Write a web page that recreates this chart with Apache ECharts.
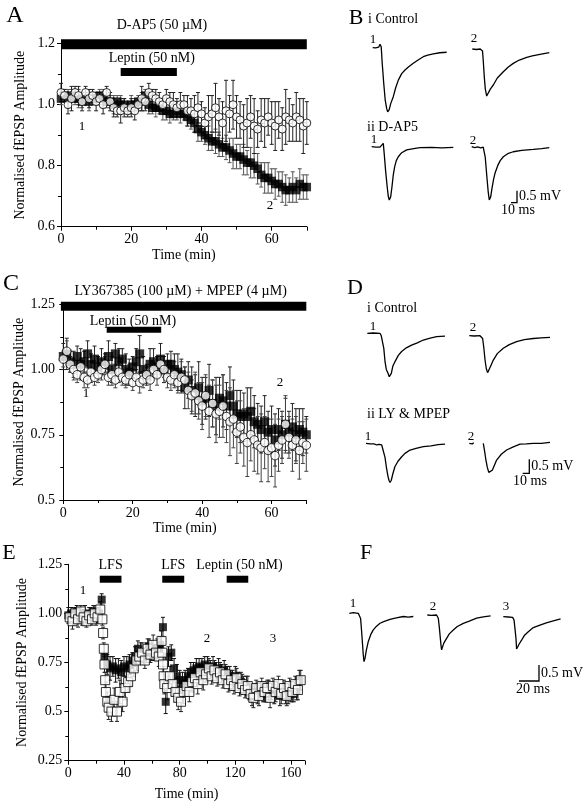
<!DOCTYPE html>
<html><head><meta charset="utf-8">
<script src="https://cdn.jsdelivr.net/npm/echarts/dist/echarts.min.js"></script>
<style>html,body{margin:0;padding:0;background:#fff}#c{width:584px;height:803px}</style>
</head><body><div id="c"></div><script>
// ---------- DATA ----------
const timeA = [0,1,2,3,4,5,6,7,8,9,10,11,12,13,14,15,16,17,18,19,20,21,22,23,24,25,26,27,28,29,30,31,32,33,34,35,36,37,38,39,40,41,42,43,44,45,46,47,48,49,50,51,52,53,54,55,56,57,58,59,60,61,62,63,64,65,66,67,68,69,70];
const aFilled = [1.02,1.03,1.02,1.03,1.02,1.02,1.01,1.02,1.01,1.02,1.02,
 1.03,1.02,1.01,1.01,1.00,1.01,1.00,1.00,0.99,1.00,
 1.00,1.01,1.01,1.03,1.00,0.99,0.99,0.99,0.98,0.98,
 0.97,0.97,0.98,0.97,0.97,0.96,0.95,0.94,0.92,0.91,
 0.90,0.89,0.88,0.88,0.87,0.86,0.86,0.85,0.84,0.83,
 0.83,0.82,0.81,0.81,0.80,0.79,0.77,0.76,0.76,0.75,
 0.74,0.74,0.73,0.72,0.72,0.73,0.72,0.74,0.73,0.73];
const aFilledErr = [.02,.02,.03,.02,.02,.03,.02,.02,.03,.02,.02,
 .02,.03,.02,.02,.03,.02,.03,.02,.02,.03,
 .02,.02,.03,.02,.03,.02,.03,.02,.03,.03,
 .03,.02,.03,.03,.02,.03,.03,.03,.04,.03,
 .03,.04,.03,.04,.04,.03,.04,.04,.05,.04,
 .04,.05,.04,.05,.04,.05,.04,.05,.05,.04,
 .05,.04,.05,.05,.04,.05,.04,.05,.04,.04];
const aOpen = [1.04,1.03,1.00,1.02,1.04,1.03,1.01,1.04,1.02,1.03,1.01,
 1.02,1.00,1.04,1.01,0.99,0.98,0.98,0.99,0.98,0.99,
 0.98,1.00,1.02,1.01,1.04,1.03,1.02,1.01,1.00,1.02,
 1.01,1.00,0.99,1.00,1.00,0.98,0.98,0.97,0.99,0.97,
 0.94,0.96,0.97,0.99,0.96,0.94,0.98,0.97,1.00,0.96,
 0.95,0.93,0.94,0.96,0.93,0.92,0.95,0.94,0.96,0.94,
 0.93,0.95,0.92,0.96,0.95,0.94,0.96,0.95,0.93,0.94];
const aOpenErr = [.03,.02,.03,.04,.02,.03,.03,.02,.03,.02,.03,
 .02,.03,.02,.03,.03,.02,.04,.03,.02,.03,
 .03,.02,.04,.03,.03,.02,.03,.03,.02,.03,
 .03,.04,.03,.04,.03,.05,.04,.06,.05,.04,
 .05,.07,.06,.08,.06,.07,.10,.06,.08,.07,
 .06,.07,.08,.07,.09,.06,.07,.08,.06,.07,
 .08,.06,.07,.09,.07,.06,.08,.07,.09,.07];
const cFilled = [1.05,1.06,1.03,1.02,1.05,1.02,1.03,1.06,1.02,1.04,1.01,
 1.03,1.02,1.05,1.00,1.06,1.03,1.04,1.00,0.99,1.01,
 1.03,1.06,1.00,0.98,1.02,1.03,1.01,1.04,1.00,1.02,
 1.02,1.00,0.99,0.98,0.93,0.96,0.92,0.90,0.93,0.88,
 0.89,0.92,0.87,0.86,0.89,0.88,0.86,0.90,0.86,0.83,
 0.82,0.83,0.82,0.84,0.80,0.79,0.77,0.80,0.76,0.77,
 0.73,0.77,0.75,0.79,0.76,0.78,0.75,0.77,0.76,0.75];
const cFilledErr = [.05,.06,.04,.05,.04,.06,.04,.05,.04,.05,.04,
 .05,.04,.06,.05,.04,.05,.04,.06,.05,.04,
 .05,.07,.05,.04,.06,.05,.04,.06,.05,.04,
 .05,.06,.07,.06,.08,.07,.09,.08,.10,.09,
 .08,.10,.09,.11,.08,.10,.09,.11,.10,.09,
 .10,.08,.11,.09,.10,.08,.09,.10,.08,.09,
 .10,.08,.09,.10,.08,.09,.10,.08,.09,.07];
const cOpen = [1.04,1.07,1.02,1.00,0.98,1.01,0.97,0.96,0.99,0.97,0.98,
 1.00,1.02,0.97,0.98,0.96,0.99,0.97,0.96,0.98,0.95,
 0.97,0.95,0.96,0.98,0.96,1.00,0.98,1.02,1.00,0.97,
 0.96,0.98,0.95,0.97,0.96,0.92,0.90,0.91,0.88,0.86,
 0.90,0.84,0.87,0.83,0.84,0.86,0.82,0.80,0.81,0.76,
 0.78,0.74,0.72,0.75,0.73,0.71,0.70,0.72,0.69,0.70,
 0.67,0.71,0.73,0.79,0.74,0.71,0.73,0.69,0.72,0.71];
const cOpenErr = [.03,.04,.03,.04,.03,.03,.04,.03,.04,.03,.03,
 .04,.03,.03,.04,.03,.04,.03,.03,.04,.03,
 .03,.04,.03,.03,.04,.03,.04,.03,.03,.04,
 .04,.05,.04,.06,.05,.07,.06,.08,.07,.09,
 .08,.10,.09,.11,.10,.12,.10,.13,.11,.12,
 .10,.11,.13,.10,.12,.11,.13,.10,.12,.11,
 .12,.10,.09,.11,.08,.10,.09,.11,.08,.10];
const timeEFilled = [0,2,4,6,8,10,12,14,16,18,20,22,24,26,28,30,32,34,36,38,40,42,44,46,48,50,52,54,56,58,60,62,64,66,68,70,72,74,76,78,80,82,84,86,88,90,92,94,96,98,100,102,104,106,108,110,112,114,116,118,120,122,124,126,128,130,132,134,136,138,140,142,144,146,148,150,152,154,156,158,160,162,164,166];
const eFilled = [0.99,1.00,0.98,1.01,0.99,0.97,1.00,0.98,0.99,1.01,0.98,1.00,1.07,0.78,0.74,0.72,0.73,0.71,0.72,0.70,0.73,0.72,0.74,0.76,0.78,0.82,0.80,0.78,0.80,0.83,0.81,0.80,0.82,0.84,0.93,0.55,0.78,0.80,0.72,0.68,0.66,0.64,0.66,0.68,0.70,0.71,0.72,0.73,0.72,0.74,0.73,0.72,0.73,0.71,0.72,0.70,0.71,0.69,0.68,0.67,0.68,0.66,0.65,0.64,0.63,0.60,0.58,0.60,0.59,0.61,0.60,0.59,0.61,0.60,0.59,0.61,0.58,0.60,0.59,0.58,0.60,0.59,0.61,0.66];
const eFilledErr = [.04,.03,.04,.03,.04,.03,.04,.03,.04,.03,.04,.03,.03,.06,.05,.06,.05,.06,.05,.06,.05,.06,.05,.04,.05,.04,.05,.04,.05,.04,.05,.04,.05,.04,.05,.06,.05,.04,.05,.06,.05,.06,.05,.04,.05,.04,.05,.04,.05,.04,.05,.04,.05,.04,.05,.04,.05,.04,.05,.04,.05,.04,.05,.04,.05,.04,.05,.04,.05,.04,.05,.04,.05,.04,.05,.04,.05,.04,.05,.04,.05,.04,.05,.05];
const timeEOpen = [1,3,5,7,9,11,13,15,17,19,21,23,24.5,25,25.5,26,26.5,27,28,29,31,33,35,37,39,41,43,45,47,49,51,53,55,57,59,61,63,65,67,67.5,68,68.5,69,71,73,75,77,79,81,83,85,87,89,91,93,95,97,99,101,103,105,107,109,111,113,115,117,119,121,123,125,127,129,131,133,135,137,139,141,143,145,147,149,151,153,155,157,159,161,163,165,167];
const eOpen = [0.98,0.96,1.00,0.97,1.01,0.98,0.96,0.99,0.97,1.00,0.98,1.02,0.97,0.90,0.82,0.74,0.66,0.60,0.55,0.52,0.50,0.56,0.50,0.60,0.55,0.62,0.65,0.68,0.72,0.76,0.78,0.80,0.76,0.82,0.79,0.84,0.80,0.78,0.86,0.80,0.74,0.68,0.64,0.62,0.68,0.64,0.60,0.57,0.55,0.60,0.63,0.60,0.65,0.67,0.64,0.70,0.66,0.69,0.72,0.68,0.71,0.67,0.70,0.66,0.69,0.64,0.66,0.63,0.67,0.62,0.64,0.61,0.63,0.59,0.57,0.62,0.58,0.63,0.60,0.62,0.57,0.63,0.60,0.64,0.59,0.62,0.58,0.63,0.60,0.64,0.61,0.66];
const eOpenErr = [.03,.04,.03,.04,.03,.04,.03,.04,.03,.04,.03,.04,.03,.03,.03,.04,.04,.05,.05,.06,.05,.06,.05,.06,.05,.06,.05,.05,.04,.05,.04,.05,.04,.05,.04,.05,.04,.05,.05,.04,.04,.05,.05,.06,.05,.06,.05,.06,.05,.06,.05,.05,.05,.04,.05,.04,.05,.04,.05,.04,.05,.04,.05,.04,.05,.04,.05,.04,.05,.04,.05,.04,.05,.04,.05,.04,.05,.04,.05,.04,.05,.04,.05,.04,.05,.04,.05,.04,.05,.04,.05,.05];

const yTicksA = ['0.6','0.8','1.0','1.2'];
const yTicksC = ['0.5','0.75','1.00','1.25'];
const yTicksE = ['0.25','0.5','0.75','1.00','1.25'];
const barsA = [[0,70,1.198],[17,33,1.107]];
const barLabelsA = ['D-AP5 (50 µM)','Leptin (50 nM)'];
const barsC = [[-0.7,70,1.243],[12.5,28.2,1.152]];
const barLabelsC = ['LY367385 (100 µM) + MPEP (4 µM)','Leptin (50 nM)'];
const barsE = [[22.6,38.2,1.174],[67.5,83.3,1.174],[113.8,129.3,1.174]];
const barLabelsE = ['LFS','LFS','Leptin (50 nM)'];

// traces: [time ms, mV]
const traceBi1 = [[0,0],[5,-0.01],[10,0.02],[12.2,0.14],[14.2,0.04],[15.8,-0.63],[18.3,-1.46],[20.8,-2.17],[23.3,-2.54],[25,-2.67],[27.5,-2.58],[30,-2.33],[34.3,-2.04],[38.3,-1.67],[42.7,-1.35],[48.3,-1.08],[53.8,-0.93],[60,-0.79],[67.7,-0.65],[75,-0.52],[84.3,-0.375],[91.7,-0.31],[101,-0.26],[111.7,-0.21],[123.3,-0.19]];
const traceBi2 = [[0,0],[6.7,-0.02],[13.3,0],[15.7,0.05],[17,-0.08],[18.3,-0.5],[20,-1.17],[21.7,-1.67],[24,-1.96],[26.7,-1.88],[30,-1.67],[35,-1.5],[41.7,-1.21],[51.7,-0.95],[60,-0.75],[68.3,-0.6],[78.3,-0.46],[90.7,-0.35],[100,-0.29],[112.8,-0.22],[128.3,-0.15]];
const traceBii1 = [[0,0],[3.3,0.06],[6.7,-0.02],[10,0],[13.8,-0.02],[16.7,0],[19.3,0.14],[21,-0.33],[23.3,-1.04],[25.8,-1.67],[27.7,-2.08],[29.3,-2.22],[31.7,-2.08],[33.8,-1.67],[36,-1.17],[38.3,-0.83],[41,-0.58],[44.3,-0.42],[50,-0.25],[58.3,-0.13],[70,-0.08],[80.5,-0.04],[100,-0.03],[116.7,-0.05],[136,-0.03]];
const traceBii2 = [[0,0],[5,-0.04],[10,-0.01],[15,-0.05],[19.2,-0.02],[20.5,0.06],[22.5,-0.42],[25,-1.17],[27.5,-1.88],[29.3,-2.22],[31.7,-2.08],[34.2,-1.67],[36.7,-1.33],[38.8,-1.11],[43.3,-0.79],[47.5,-0.58],[52.7,-0.42],[60,-0.29],[69.3,-0.21],[83.3,-0.15],[102.7,-0.11],[116.7,-0.08],[129.3,-0.04]];
const traceDi1 = [[0,0],[9.1,0.01],[19.2,0],[21.2,-0.09],[23.2,-0.12],[25,-0.54],[26.8,-1.0],[28.8,-1.29],[31.4,-1.43],[33.3,-1.55],[36.4,-1.43],[38.6,-1.18],[42,-1.01],[47,-0.79],[52,-0.65],[59.1,-0.52],[67.1,-0.42],[75.8,-0.34],[84.8,-0.24],[93.9,-0.18],[105,-0.12],[117.7,-0.1]];
const traceDi2 = [[0,0],[7.6,-0.01],[16.2,0],[18.9,-0.04],[20.2,-0.1],[22,-0.43],[23.8,-0.86],[25.8,-1.18],[27.7,-1.32],[29.8,-1.25],[32.6,-1.07],[36.4,-0.87],[42.4,-0.64],[51.5,-0.45],[60.6,-0.32],[71.7,-0.21],[83.3,-0.14],[97,-0.1],[109,-0.08],[122.3,-0.06]];
const traceDii1 = [[0,0],[3,0.05],[6.1,-0.02],[9.1,-0.05],[12.1,-0.02],[16.2,-0.06],[19.7,-0.04],[23.8,-0.06],[26.2,-0.12],[28.8,-0.5],[31.1,-0.89],[33.3,-1.18],[34.8,-1.32],[36.4,-1.4],[38.3,-1.32],[40.9,-1.07],[43.9,-0.83],[48.5,-0.64],[54.1,-0.48],[59.1,-0.36],[66.7,-0.24],[75.8,-0.18],[86.8,-0.12],[98.5,-0.09],[109.1,-0.05],[119.7,-0.03]];
const traceDii2Pre = [[0,0],[2.3,0.04],[4.5,-0.02],[6.8,0.02]];
const traceDii2 = [[21.2,0],[22.7,-0.21],[25,-0.57],[27.3,-0.86],[29.5,-1.04],[32.3,-1.07],[34.8,-0.96],[37.9,-0.79],[41.4,-0.6],[48.5,-0.39],[56.5,-0.24],[66.7,-0.13],[76.8,-0.03],[86.4,-0.02],[97,0],[109.1,0],[122.3,0.03]];
const traceF1 = [[0,0],[4,0.02],[9,0],[10.5,-0.05],[11.3,-0.16],[12.3,-0.56],[13.3,-1.0],[14,-1.31],[14.7,-1.51],[15.7,-1.41],[17,-1.16],[19,-0.88],[21.5,-0.66],[24,-0.52],[27,-0.41],[30.7,-0.31],[35,-0.25],[40.7,-0.19],[47,-0.14],[54,-0.1],[59,-0.12],[64,-0.1]];
const traceF2 = [[0,0],[4,-0.01],[9.3,0],[10.3,-0.03],[11,-0.1],[12,-0.38],[13,-0.72],[13.7,-0.94],[14.3,-1.09],[15.3,-1.03],[16.5,-0.88],[19.3,-0.73],[22,-0.59],[26,-0.47],[30,-0.36],[36,-0.26],[42,-0.19],[49.3,-0.1],[56,-0.06],[63.3,-0.03]];
const traceF3 = [[0,0],[5,-0.01],[9.3,-0.02],[10.7,-0.1],[11.7,-0.38],[12.7,-0.69],[13.3,-1.01],[14.5,-0.94],[15.7,-0.86],[18.3,-0.73],[21,-0.59],[25,-0.47],[30,-0.34],[36.7,-0.26],[43,-0.19],[50,-0.13],[57.3,-0.07]];
const scaleB = [10, 0.5], scaleD = [10, 0.5], scaleF = [20, 0.5];
const scaleLabelsB = ['0.5 mV','10 ms'], scaleLabelsD = ['0.5 mV','10 ms'], scaleLabelsF = ['0.5 mV','20 ms'];
const axisNameY = 'Normalised fEPSP Amplitude', axisNameX = 'Time (min)';

// ---------- CHART ----------
const FONT = '"Liberation Serif","DejaVu Serif",serif';
const grids = [], xAxes = [], yAxes = [], series = [];
function zip3(t, v, e){ return t.map((x,i)=>[x, v[i], e[i]]); }
function zip2(t, v){ return t.map((x,i)=>[x, v[i]]); }

function addScatterPanel(g, xmax, xint, ymin, ymax, yint, ylabels, yoff, nameGapY, nameGapX){
  const idx = grids.length;
  grids.push(g);
  const common = {
    axisLine:{show:true,lineStyle:{color:'#000',width:1}},
    axisTick:{show:true,inside:false,length:4,lineStyle:{color:'#000'}},
    minorTick:{show:true,splitNumber:2,length:3,lineStyle:{color:'#000'}},
    splitLine:{show:false}, minorSplitLine:{show:false},
    nameTextStyle:{fontFamily:FONT,fontSize:14,color:'#000'}
  };
  xAxes.push(Object.assign({}, common, {gridIndex:idx,type:'value',min:0,max:xmax,interval:xint,
    name:axisNameX,nameLocation:'middle',nameGap:nameGapX,
    axisLabel:{color:'#000',fontFamily:FONT,fontSize:14,margin:6,showMaxLabel:false}}));
  yAxes.push(Object.assign({}, common, {gridIndex:idx,type:'value',min:ymin,max:ymax,interval:yint,offset:yoff,
    name:axisNameY,nameLocation:'middle',nameGap:nameGapY,
    axisLabel:{color:'#000',fontFamily:FONT,fontSize:14,margin:6,
      formatter:v=>ylabels[Math.round((v-ymin)/yint)]}}));
  return idx;
}
function errSeries(idx, data, color){
  series.push({type:'custom',xAxisIndex:idx,yAxisIndex:idx,data:data,silent:true,
    renderItem:(p,api)=>{
      const x=api.value(0), y=api.value(1), e=api.value(2);
      const a=api.coord([x,y+e]), b=api.coord([x,y-e]);
      const st={stroke:color,lineWidth:1};
      return {type:'group',children:[
        {type:'line',shape:{x1:a[0],y1:a[1],x2:b[0],y2:b[1]},style:st},
        {type:'line',shape:{x1:a[0]-2,y1:a[1],x2:a[0]+2,y2:a[1]},style:st},
        {type:'line',shape:{x1:b[0]-2,y1:b[1],x2:b[0]+2,y2:b[1]},style:st}]};
    }});
}
function ptSeries(idx, data, symbol, size, filled){
  series.push({type:'scatter',xAxisIndex:idx,yAxisIndex:idx,data:data,symbol:symbol,symbolSize:size,silent:true,
    itemStyle:filled?{color:'#000'}:{color:'#fff',borderColor:'#000',borderWidth:1}});
}
function barSeries(idx, bars, labels, thick, lab){
  series.push({type:'custom',xAxisIndex:idx,yAxisIndex:idx,data:bars,silent:true,
    renderItem:(p,api)=>{
      const i=p.dataIndex;
      const a=api.coord([api.value(0),api.value(2)]), b=api.coord([api.value(1),api.value(2)]);
      const h=thick[i];
      return {type:'group',children:[
        {type:'rect',shape:{x:a[0],y:a[1]-h/2,width:b[0]-a[0],height:h},style:{fill:'#000'}},
        {type:'text',x:(a[0]+b[0])/2+lab[i][0],y:a[1]-lab[i][1],
          style:{text:labels[i],font:'14px '+FONT,fill:'#000',align:'center',verticalAlign:'middle'}}]};
    }});
}

// Panel A
const gA = addScatterPanel({left:61,top:43.7,width:245.8,height:183}, 70, 20, 0.6, 1.2, 0.2, yTicksA, 0, 34, 22);
barSeries(gA, barsA, barLabelsA, [10,8], [[-22,19],[3,14]]);
errSeries(gA, zip3(timeA,aFilled,aFilledErr), '#555');
ptSeries(gA, zip2(timeA,aFilled), 'rect', 8.5, true);
errSeries(gA, zip3(timeA,aOpen,aOpenErr), '#222');
ptSeries(gA, zip2(timeA,aOpen), 'circle', 8, false);

// Panel C
const gC = addScatterPanel({left:63.3,top:304.3,width:243,height:195.7}, 70, 20, 0.5, 1.25, 0.25, yTicksC, 2.3, 34, 21);
barSeries(gC, barsC, barLabelsC, [9,6], [[-3,14.5],[-1,9]]);
errSeries(gC, zip3(timeA,cFilled,cFilledErr), '#222');
ptSeries(gC, zip2(timeA,cFilled), 'rect', 9, true);
errSeries(gC, zip3(timeA,cOpen,cOpenErr), '#444');
ptSeries(gC, zip2(timeA,cOpen), 'circle', 8.5, false);

// Panel E
const gE = addScatterPanel({left:68.3,top:564.3,width:236.6,height:196.4}, 170, 40, 0.25, 1.25, 0.25, yTicksE, 0, 39, 27);
barSeries(gE, barsE, barLabelsE, [7,7,7], [[0,14],[0,14],[2,14]]);
errSeries(gE, zip3(timeEFilled,eFilled,eFilledErr), '#111');
ptSeries(gE, zip2(timeEFilled,eFilled), 'rect', 8, true);
errSeries(gE, zip3(timeEOpen,eOpen,eOpenErr), '#222');
ptSeries(gE, zip2(timeEOpen,eOpen), 'rect', 9, false);

// trace grids
const VMAX = 0.5, VMIN = -3;
function traceGrid(ox, oy, pxms, pxmv, tmax){
  const idx = grids.length;
  grids.push({left:ox, top:oy - VMAX*pxmv, width:tmax*pxms, height:(VMAX-VMIN)*pxmv});
  xAxes.push({gridIndex:idx,type:'value',min:0,max:tmax,show:false});
  yAxes.push({gridIndex:idx,type:'value',min:VMIN,max:VMAX,show:false});
  return idx;
}
function traceLine(idx, data){
  series.push({type:'line',xAxisIndex:idx,yAxisIndex:idx,data:data,showSymbol:false,silent:true,
    lineStyle:{color:'#000',width:1.3},clip:false});
}
function scaleBar(idx, sz, labels){
  series.push({type:'custom',xAxisIndex:idx,yAxisIndex:idx,data:[sz],silent:true,
    renderItem:(p,api)=>{
      const o=api.coord([0,0]), c=api.coord([api.value(0),0]), t=api.coord([api.value(0),api.value(1)]);
      return {type:'group',children:[
        {type:'polyline',shape:{points:[o,c,t]},style:{stroke:'#000',lineWidth:1.3,fill:null}},
        {type:'text',x:c[0]+2,y:(c[1]+t[1])/2,style:{text:labels[0],font:'14px '+FONT,fill:'#000',align:'left',verticalAlign:'middle'}},
        {type:'text',x:(o[0]+c[0])/2+4,y:c[1]+8,style:{text:labels[1],font:'14px '+FONT,fill:'#000',align:'center',verticalAlign:'middle'}}]};
    }});
}
const BX=0.6, BY=24, DX=0.66, DY=28, FX=1.0, FY=32;
traceLine(traceGrid(372.7,47.7,BX,BY,140), traceBi1);
traceLine(traceGrid(472.3,49,BX,BY,140), traceBi2);
traceLine(traceGrid(371.7,146.7,BX,BY,140), traceBii1);
traceLine(traceGrid(471.7,146.7,BX,BY,140), traceBii2);
scaleBar(traceGrid(511,202.7,BX,BY,40), scaleB, scaleLabelsB);
traceLine(traceGrid(367.3,333.3,DX,DY,130), traceDi1);
traceLine(traceGrid(469.3,335.7,DX,DY,130), traceDi2);
traceLine(traceGrid(366,443.3,DX,DY,130), traceDii1);
const gDii2 = traceGrid(469.3,443.3,DX,DY,130);
traceLine(gDii2, traceDii2Pre);
traceLine(gDii2, traceDii2);
scaleBar(traceGrid(522.7,473.3,DX,DY,40), scaleD, scaleLabelsD);
traceLine(traceGrid(349.3,613.3,FX,FY,70), traceF1);
traceLine(traceGrid(427.3,615,FX,FY,70), traceF2);
traceLine(traceGrid(503.3,616.7,FX,FY,70), traceF3);
scaleBar(traceGrid(519,681,FX,FY,40), scaleF, scaleLabelsF);

// free text
const texts = [
  ['A',15,16,24,'center'],['B',356,18,22,'center'],['C',11,284,24,'center'],['D',355,288,22,'center'],['E',9,553,22,'center'],['F',366,553,22,'center'],
  ['i Control',368,19,14,'left'],['ii D-AP5',367,127,14,'left'],['i Control',367,308,14,'left'],['ii LY & MPEP',367,414,14,'left'],
  ['1',82,127,13,'center'],['2',270,206,13,'center'],['1',86,394,13,'center'],['2',280,383,13,'center'],
  ['1',83,591,13,'center'],['2',207,639,13,'center'],['3',273,639,13,'center'],
  ['1',373,40,13,'center'],['2',474,39,13,'center'],['1',374,140,13,'center'],['2',473,141,13,'center'],
  ['1',373,327,13,'center'],['2',473,328,13,'center'],['1',368,437,13,'center'],['2',471,437,13,'center'],
  ['1',353,604,13,'center'],['2',433,607,13,'center'],['3',506,607,13,'center']
];
const graphic = texts.map(t=>({type:'text',x:t[1],y:t[2],silent:true,
  style:{text:t[0],font:t[3]+'px '+FONT,fill:'#000',align:t[4],verticalAlign:'middle'}}));

const chart = echarts.init(document.getElementById('c'), null, {renderer:'canvas'});
chart.setOption({animation:false,backgroundColor:'#fff',grid:grids,xAxis:xAxes,yAxis:yAxes,series:series,graphic:graphic});
</script></body></html>
